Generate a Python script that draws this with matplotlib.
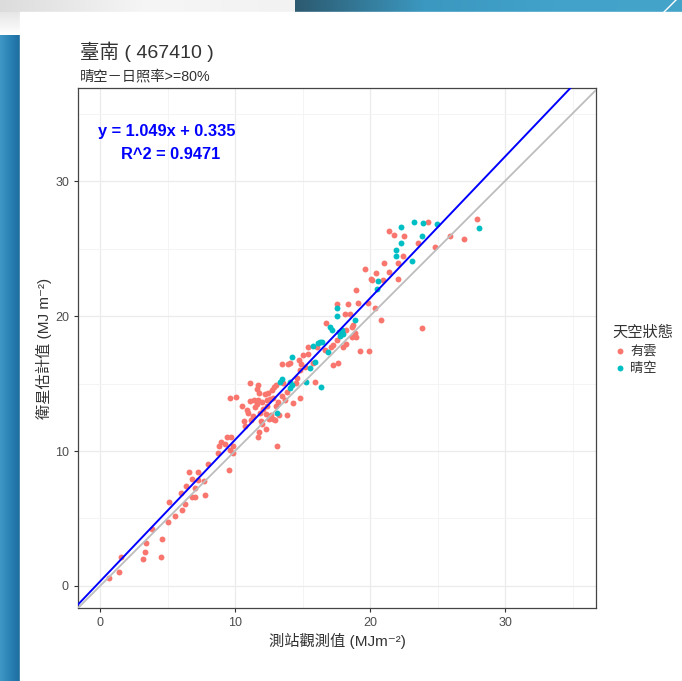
import numpy as np
import matplotlib.pyplot as plt
from matplotlib.colors import LinearSegmentedColormap

plt.rcParams['font.family'] = ['Liberation Sans', 'Noto Sans CJK TC', 'DejaVu Sans']

# Station observations vs. satellite estimates (MJ m^-2), split by sky condition
cloudy_obs = [0.67, 1.41, 1.53, 3.21, 3.33, 3.38, 3.88, 4.52, 4.57, 5.01, 5.09, 5.53,
              6.07, 6.30, 6.00, 6.39, 6.59, 6.79, 6.81, 7.04, 7.06, 7.26, 7.28, 7.73,
              7.78, 8.00, 8.77, 8.84, 8.96, 9.26, 9.58, 9.63, 9.83, 9.88,
              9.38, 9.68, 13.09, 11.73, 12.27, 10.69, 11.19, 11.93, 12.54, 12.79, 10.86,
              11.48, 11.85, 12.27, 12.64, 11.11, 11.43, 11.73, 11.98, 12.35, 12.59, 13.21,
              13.70, 14.32, 14.81, 9.63, 10.07, 11.11, 11.60, 11.73, 11.80, 12.22, 12.47,
              12.72, 12.89, 13.04, 13.58, 14.52, 15.93, 13.46, 13.95, 14.07, 14.77, 14.89,
              15.06, 15.43, 15.80, 14.81, 16.05, 15.43, 16.67, 17.09, 17.28, 17.53, 18.02,
              17.28, 17.65, 10.74, 11.80, 12.96, 13.28, 13.88, 10.50, 12.10, 13.00, 11.30,
              12.00, 11.60, 12.40, 13.50, 12.85, 10.95, 13.85, 14.60, 15.20,
              17.53, 18.40, 18.15, 18.52, 18.96, 19.14, 19.88, 20.12, 20.37, 20.79, 16.74,
              18.22, 18.64, 18.77, 18.89, 18.64, 18.96, 18.22, 19.26, 19.93,
              24.32, 21.43, 21.80, 22.54, 23.58, 22.42, 22.10, 27.90, 26.99, 25.93, 24.81,
              21.06, 19.63, 20.44, 21.43, 20.05, 20.99, 22.04, 23.83]
cloudy_sat = [0.61, 1.04, 2.17, 1.97, 2.54, 3.21, 4.20, 2.17, 3.46, 4.76, 6.22, 5.19,
              5.63, 6.05, 6.87, 7.41, 8.42, 7.90, 6.62, 6.62, 7.28, 8.42, 7.85, 7.78,
              6.74, 9.04, 9.87, 10.37, 10.69, 10.52, 8.59, 10.07, 10.37, 9.83,
              11.06, 11.06, 10.37, 11.06, 11.60, 12.25, 12.30, 12.25, 12.35, 12.35, 13.04,
              13.24, 12.79, 12.74, 12.67, 13.73, 13.78, 13.78, 13.63, 13.78, 13.83, 13.65,
              13.78, 13.53, 13.90, 13.90, 14.02, 15.01, 14.57, 14.89, 14.27, 14.22, 14.32,
              14.52, 14.77, 14.89, 15.01, 15.06, 15.14, 16.44, 16.47, 16.50, 16.74, 16.44,
              17.11, 17.19, 16.50, 16.00, 17.68, 17.73, 17.48, 17.68, 17.85, 18.22, 17.73,
              16.37, 16.50, 11.85, 11.43, 12.30, 12.67, 12.67, 13.30, 13.10, 13.30, 12.60,
              12.00, 13.45, 13.35, 14.10, 13.95, 12.85, 14.40, 15.40, 16.20,
              20.89, 20.89, 20.15, 20.15, 21.93, 20.94, 20.94, 22.67, 20.57, 19.70, 19.51,
              18.96, 19.21, 19.33, 18.72, 18.42, 18.42, 17.93, 17.43, 17.43,
              26.99, 26.30, 26.00, 25.93, 25.43, 24.44, 23.95, 27.19, 25.68, 25.93, 25.14,
              23.95, 23.48, 23.16, 23.28, 22.74, 22.67, 22.74, 19.09]

clear_obs = [17.53, 17.53, 18.89, 17.04, 17.21, 17.90, 17.78, 13.09, 13.33, 13.46, 14.07,
             14.20, 14.07, 15.26, 16.37, 14.20, 15.93, 15.56, 15.80, 16.17, 16.42, 16.91,
             17.73, 18.02, 22.30, 23.26, 23.95, 23.83, 22.30, 21.93, 21.93, 23.09, 24.99,
             28.10, 20.57, 20.49, 16.30]
clear_sat = [20.62, 20.00, 19.70, 19.21, 18.96, 18.96, 18.52, 12.84, 15.14, 15.31, 15.14,
             14.89, 14.64, 15.14, 14.77, 16.99, 16.62, 16.12, 17.78, 18.02, 18.10, 17.36,
             18.84, 18.67, 26.62, 26.99, 26.86, 25.93, 25.43, 24.89, 24.44, 24.10, 26.81,
             26.49, 22.62, 22.00, 18.10]

slope, intercept, r2 = 1.049, 0.335, 0.9471
ticks = [0, 10, 20, 30]

W, H = 682, 681
fig = plt.figure(figsize=(W / 100, H / 100), dpi=100)

# slide background behind the chart
bg = fig.add_axes([0, 0, 1, 1], zorder=-5)
bg.set_xlim(0, W)
bg.set_ylim(H, 0)
bg.axis('off')
grad = np.linspace(0, 1, 256).reshape(1, -1)
bg.imshow(grad, cmap=LinearSegmentedColormap.from_list(
    'tl', ['#dcdcdc', '#f6f6f6', '#f2f2f2']), extent=[0, 295, 12, 0], aspect='auto')
bg.imshow(grad, cmap=LinearSegmentedColormap.from_list(
    'tr', ['#2c5a70', '#3b98c0', '#42a2c9', '#44a4ca']), extent=[295, W, 12, 0], aspect='auto')
bg.plot([664, 676], [12, 0], color='white', lw=1)
bg.imshow(grad, cmap=LinearSegmentedColormap.from_list(
    'lf', ['#3e98c6', '#2a82b5', '#1d6c9f']), extent=[0, 20, H, 35], aspect='auto')
bg.imshow(grad.T[::-1], cmap=LinearSegmentedColormap.from_list(
    'lt', ['#ffffff', '#e6e6e6']), extent=[0, 20, 35, 12], aspect='auto')
bg.add_patch(plt.Rectangle((20, 12), W - 20, H - 12, color='white'))

ax = fig.add_axes([78 / W, 1 - 608 / H, (596 - 78) / W, (608 - 88) / H])
ax.set_xlim(-1.63, 36.74)
ax.set_ylim(-1.63, 36.89)

ax.scatter(cloudy_obs, cloudy_sat, s=18, color='#F8766D', linewidths=0, label='有雲', zorder=3)
ax.scatter(clear_obs, clear_sat, s=18, color='#00BFC4', linewidths=0, label='晴空', zorder=3)

ax.axline((0, 0), slope=1, color='#bdbdbd', lw=1.3, zorder=4)
ax.axline((0, intercept), slope=slope, color='blue', lw=1.4, zorder=5)

ax.text(4.96, 33.7, f'y = {slope:.3f}x + {intercept:.3f}', ha='center', va='center',
        color='blue', fontsize=11.8, fontweight='bold')
ax.text(5.2, 32.0, f'R^2 = {r2:.4f}', ha='center', va='center',
        color='blue', fontsize=11.8, fontweight='bold')

ax.set_xticks(ticks)
ax.set_yticks(ticks)
ax.set_xticks([5, 15, 25, 35], minor=True)
ax.set_yticks([5, 15, 25, 35], minor=True)
ax.grid(True, which='major', color='#ebebeb', lw=0.9, zorder=0)
ax.grid(True, which='minor', color='#f3f3f3', lw=0.6, zorder=0)
ax.set_axisbelow(True)
ax.tick_params(which='major', length=3, width=0.8, color='#333333',
               labelsize=9, labelcolor='#4d4d4d')
ax.tick_params(which='minor', length=0)
for sp in ax.spines.values():
    sp.set_color('#444444')
    sp.set_linewidth(0.9)

ax.set_xlabel('測站觀測值 (MJm⁻²)', fontsize=11, color='#333333', labelpad=3)
ax.set_ylabel('衛星估計值 (MJ m⁻²)', fontsize=11, color='#333333', labelpad=2)

fig.text(80 / W, 1 - 52 / H, '臺南 ( 467410 )', fontsize=14, color='#333333', va='center')
fig.text(80 / W, 1 - 76 / H, '晴空－日照率>=80%', fontsize=10.3, color='#333333', va='center')

leg = ax.legend(title='天空狀態', loc='upper left', bbox_to_anchor=(600 / W, 1 - 314 / H),
                bbox_transform=fig.transFigure, frameon=False, fontsize=9.5,
                title_fontsize=11, handletextpad=0.2, labelspacing=0.35,
                markerscale=1.0, alignment='left', handlelength=1.2)
for t in leg.get_texts():
    t.set_color('#333333')
leg.get_title().set_color('#333333')

fig.savefig('out.png', dpi=100)
